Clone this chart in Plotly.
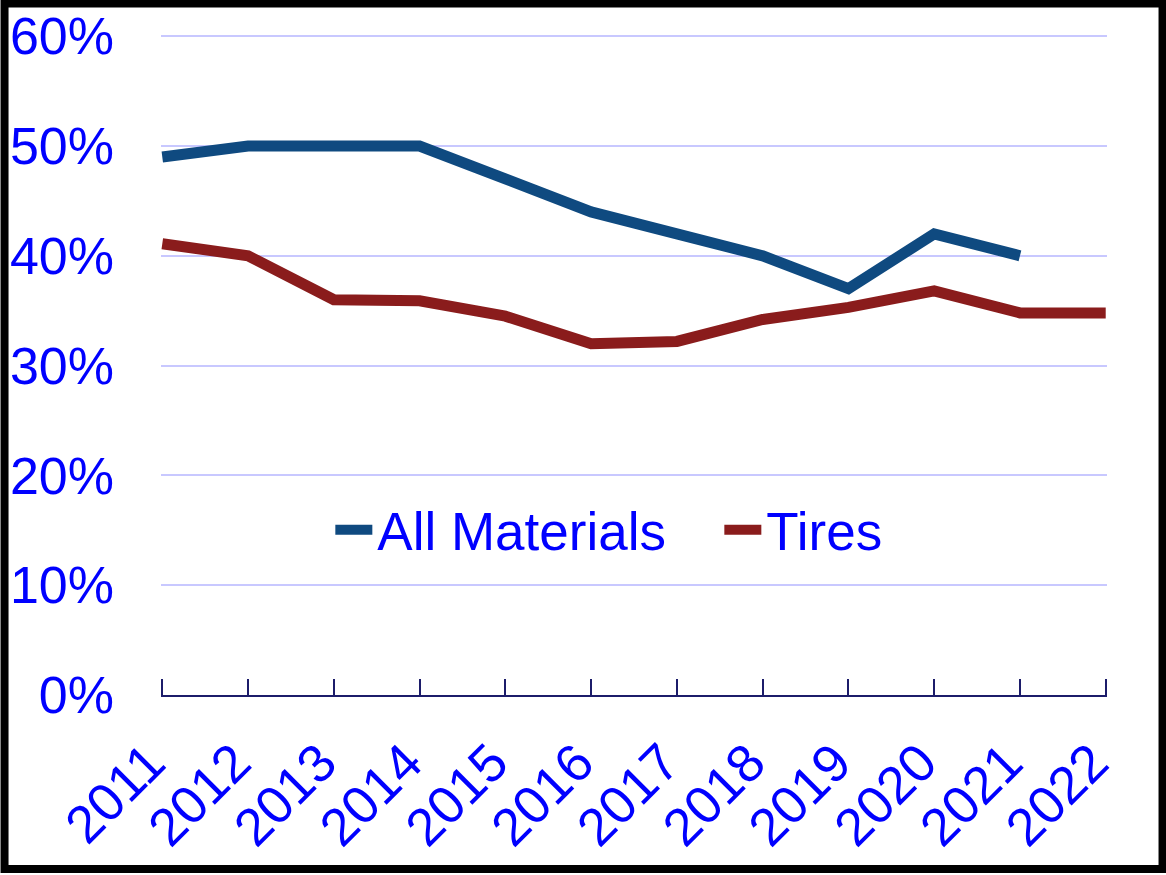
import plotly.graph_objects as go

years = ['2011', '2012', '2013', '2014', '2015', '2016', '2017', '2018', '2019', '2020', '2021', '2022']
all_materials = [0.49, 0.50, 0.50, 0.50, 0.47, 0.44, 0.42, 0.40, 0.37, 0.42, 0.40, None]
tires = [0.411, 0.40, 0.36, 0.359, 0.345, 0.32, 0.322, 0.342, 0.353, 0.368, 0.348, 0.348]

font_family = 'Liberation Sans, Arial, sans-serif'
blue_text = '#0000ff'
axis_navy = '#1c1c6a'

fig = go.Figure()
fig.add_trace(go.Scatter(x=years, y=all_materials, name='All Materials', mode='lines',
                         line=dict(color='#0f4a80', width=11), connectgaps=False))
fig.add_trace(go.Scatter(x=years, y=tires, name='Tires', mode='lines',
                         line=dict(color='#8a1c1c', width=11)))

# plot area spans x 162..1106, y 36..695 of the page
fig.update_layout(
    width=1166, height=875,
    margin=dict(l=161, r=59, t=34, b=180),
    paper_bgcolor='white', plot_bgcolor='white',
    font=dict(family=font_family, size=52, color=blue_text),
    showlegend=True,
    legend=dict(orientation='h', x=0.179, y=0.25, xanchor='left', yanchor='middle',
                bgcolor='rgba(0,0,0,0)', font=dict(size=53, color=blue_text),
                itemwidth=37, entrywidth=337, entrywidthmode='pixels', tracegroupgap=0),
    shapes=[dict(type='rect', xref='paper', yref='paper', x0=-0.1654, x1=1.0587, y0=-0.2632, y1=1.0461,
                 line=dict(color='black', width=8))],
)

fig.update_xaxes(
    type='category', range=[-0.015, 11.015], automargin=False,
    showgrid=False, showline=True, linecolor=axis_navy, linewidth=2,
    ticks='inside', ticklen=16, tickwidth=2, tickcolor=axis_navy,
    tickangle=-45, tickfont=dict(size=53, color=blue_text),
    ticklabelstandoff=13, ticklabelshift=-13, zeroline=False,
)
fig.update_yaxes(
    range=[0, 0.602], tickvals=[0, 0.1, 0.2, 0.3, 0.4, 0.5, 0.6], tickformat='.0%',
    automargin=False,
    showgrid=True, gridcolor='#c8c8ff', gridwidth=2,
    showline=False, zeroline=False, ticks='',
    tickfont=dict(size=52, color=blue_text), ticklabelstandoff=46,
)

fig.write_html("out.html", config={'displayModeBar': False},
               post_script="document.body.style.margin='0px';")
